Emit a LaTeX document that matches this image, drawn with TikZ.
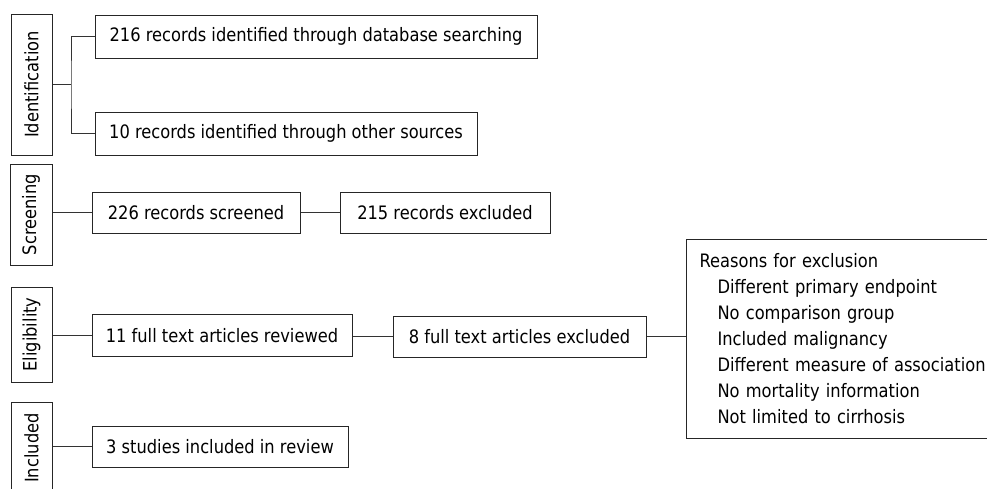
\documentclass[tikz,border=0pt]{standalone}
\usepackage{fontspec}
\setmainfont[FakeStretch=0.88]{DejaVu Sans}
\begin{document}
\begin{tikzpicture}[x=1pt,y=-1pt,
  box/.style={draw=black!85,line width=1pt,rectangle,inner sep=0pt,align=center,font=\fontsize{18.5}{22}\selectfont},
  stage/.style={box,rotate=90},
  conn/.style={draw=black!80,line width=1pt}]
\useasboundingbox (0,0) rectangle (987,488);
% stage labels
\node[stage,minimum width=141,minimum height=41] (ident) at (31.5,84.5) {Identification};
\node[stage,minimum width=101,minimum height=42] (screen) at (31,214.5) {Screening};
\node[stage,minimum width=95,minimum height=41] (elig) at (31.5,334.5) {Eligibility};
\node[stage,minimum width=92,minimum height=41] (incl) at (31.5,448) {Included};
% boxes
\node[box,minimum width=442,minimum height=43] (rec216) at (316,36.5) {216 records identified through database searching};
\node[box,minimum width=382,minimum height=43] (rec10) at (286,133.5) {10 records identified through other sources};
\node[box,minimum width=208,minimum height=41] (scr226) at (196,212.5) {226 records screened};
\node[box,minimum width=210,minimum height=41] (exc215) at (445,212.5) {215 records excluded};
\node[box,minimum width=260,minimum height=42] (full11) at (222,335.5) {11 full text articles reviewed};
\node[box,minimum width=253,minimum height=41] (exc8) at (519.5,336.5) {8 full text articles excluded};
\node[box,minimum width=256,minimum height=41] (stud3) at (220,446.5) {3 studies included in review};
\node[box,draw=none,anchor=north west,text width=300,inner xsep=13,minimum height=198,align=left,
  font=\fontsize{18.5}{26}\selectfont] (reasons) at (686,239) {Reasons for exclusion\\
\hspace*{18pt}Different primary endpoint\\
\hspace*{18pt}No comparison group\\
\hspace*{18pt}Included malignancy\\
\hspace*{18pt}Different measure of association\\
\hspace*{18pt}No mortality information\\
\hspace*{18pt}Not limited to cirrhosis};
\draw[black!85,line width=1pt] (reasons.north east) -- (reasons.north west) -- (reasons.south west) -- (reasons.south east);
% connectors
\coordinate (ibr) at (71,84.5);
\draw[conn] (ident.south) -- (ibr);
\draw[conn] (rec216.west) -| (ibr) |- (rec10.west);
\draw[conn] (scr226.west) -- (scr226.west -| screen.south);
\draw[conn] (scr226.east) -- (exc215.west);
\draw[conn] (full11.west) -- (full11.west -| elig.south);
\draw[conn] (full11.east |- exc8.west) -- (exc8.west);
\draw[conn] (exc8.east) -- (exc8.east -| reasons.west);
\draw[conn] (stud3.west) -- (stud3.west -| incl.south);
\end{tikzpicture}
\end{document}
